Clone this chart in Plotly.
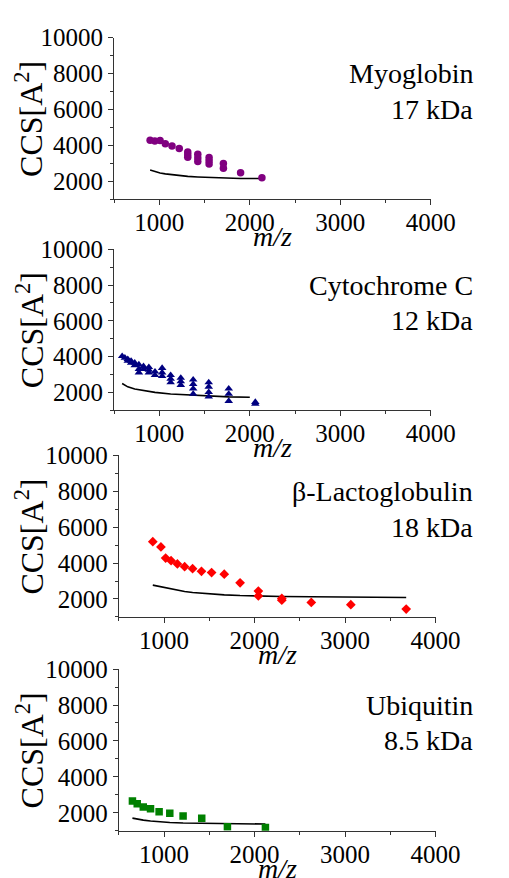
import plotly.graph_objects as go

# ---------------- data ----------------
myo_mz = [898, 950, 1008, 1066, 1140, 1220, 1314, 1314, 1314, 1425, 1425, 1425,
          1550, 1550, 1550, 1708, 1708, 1898, 2134]
myo_ccs = [4280, 4240, 4270, 4090, 3960, 3820, 3630, 3480, 3330, 3500, 3300, 3100,
           3320, 3140, 2960, 2990, 2720, 2480, 2190]
myo_line_mz = [898, 950, 1008, 1066, 1140, 1220, 1314, 1425, 1550, 1708, 1898, 2134]
myo_line_ccs = [2630, 2540, 2460, 2410, 2360, 2310, 2270, 2240, 2210, 2180, 2150, 2150]

cyt_mz = [589, 619, 651, 651, 688, 688, 728, 728, 774, 774, 774, 825, 825,
          884, 884, 884, 952, 952, 1031, 1031, 1031, 1125, 1125, 1125,
          1237, 1237, 1237, 1374, 1374, 1374, 1374, 1546, 1546, 1546, 1546,
          1767, 1767, 1767, 2061, 2061]
cyt_ccs = [4020, 3930, 3850, 3750, 3750, 3650, 3650, 3500, 3550, 3300, 3100, 3450, 3300,
           3400, 3250, 3100, 3150, 2950, 3350, 3100, 2900, 2950, 2750, 2550,
           2800, 2600, 2400, 2700, 2450, 2200, 1900, 2550, 2300, 2000, 1750,
           2200, 1900, 1500, 1450, 1350]
cyt_line_mz = [589, 651, 728, 825, 952, 1125, 1374, 1546, 1767, 2000]
cyt_line_ccs = [2490, 2300, 2180, 2080, 1990, 1900, 1830, 1780, 1740, 1720]

lac_mz = [875, 965, 1017, 1077, 1147, 1227, 1315, 1413, 1525, 1665, 1840,
          2042, 2042, 2301, 2301, 2627, 3064, 3676]
lac_ccs = [5190, 4900, 4280, 4130, 3950, 3800, 3690, 3540, 3470, 3380, 2900,
           2440, 2170, 2030, 1930, 1810, 1680, 1440]
lac_line_mz = [875, 965, 1017, 1077, 1147, 1227, 1315, 1413, 1525, 1665, 1840,
               2042, 2301, 2627, 3064, 3676]
lac_line_ccs = [2770, 2680, 2600, 2540, 2480, 2420, 2360, 2320, 2270, 2230, 2190,
                2160, 2140, 2120, 2090, 2080]

ubq_mz = [650, 703, 770, 850, 945, 1063, 1210, 1416, 1700, 2120]
ubq_ccs = [2650, 2500, 2320, 2220, 2060, 1970, 1820, 1700, 1220, 1180]
ubq_line_mz = [650, 703, 770, 850, 945, 1063, 1210, 1416, 1700, 2120]
ubq_line_ccs = [1700, 1640, 1590, 1540, 1500, 1460, 1430, 1420, 1400, 1370]

names = ["Myoglobin", "Cytochrome C", "β-Lactoglobulin", "Ubiquitin"]
masses = ["17 kDa", "12 kDa", "18 kDa", "8.5 kDa"]
x_ticks = [1000, 2000, 3000, 4000]
y_ticks = [2000, 4000, 6000, 8000, 10000]

# ---------------- layout geometry ----------------
W, H = 509, 878
panels = [
    # (x_left_px, x_right_px, y_top_px, y_bottom_px)
    (120, 453, 25, 189),
    (120, 453, 240, 403),
    (125, 458, 449, 613),
    (125, 458, 666, 830),
]
series = [
    (myo_mz, myo_ccs, myo_line_mz, myo_line_ccs, "circle", "#800080", 7.5),
    (cyt_mz, cyt_ccs, cyt_line_mz, cyt_line_ccs, "triangle-up", "#000080", 7.5),
    (lac_mz, lac_ccs, lac_line_mz, lac_line_ccs, "diamond", "#FF0000", 7.5),
    (ubq_mz, ubq_ccs, ubq_line_mz, ubq_line_ccs, "square", "#008000", 7.5),
]

FONT = "Liberation Serif, Times New Roman, serif"
fig = go.Figure()
annotations = []
layout = {}
for i, ((xl, xr, yt, yb), (mz, ccs, lmz, lccs, sym, col, ms)) in enumerate(zip(panels, series)):
    n = i + 1
    xa = "x" if n == 1 else f"x{n}"
    ya = "y" if n == 1 else f"y{n}"
    fig.add_trace(go.Scatter(x=lmz, y=lccs, mode="lines", xaxis=xa, yaxis=ya,
                             line=dict(color="black", width=1.6), showlegend=False))
    fig.add_trace(go.Scatter(x=mz, y=ccs, mode="markers", xaxis=xa, yaxis=ya,
                             marker=dict(symbol=sym, color=col, size=ms, line=dict(width=0)),
                             showlegend=False))
    axcommon = dict(showgrid=False, zeroline=False, showline=True, linecolor="#333",
                    linewidth=1, ticks="outside", tickcolor="#333", ticklen=5,
                    tickwidth=1, tickfont=dict(family=FONT, size=25, color="black"))
    layout["xaxis" if n == 1 else f"xaxis{n}"] = dict(
        axcommon, domain=[xl / W, xr / W], anchor=ya, range=[500, 4000],
        tickmode="array", tickvals=x_ticks, ticktext=[str(v) for v in x_ticks],
        ticklabelstandoff=-4,
        minor=dict(tickvals=[500, 1500, 2500, 3500], ticks="outside", ticklen=3,
                   tickcolor="#333"))
    layout["yaxis" if n == 1 else f"yaxis{n}"] = dict(
        axcommon, domain=[1 - yb / H, 1 - yt / H], anchor=xa, range=[1000, 10000],
        tickmode="array", tickvals=y_ticks, ticktext=[str(v) for v in y_ticks],
        minor=dict(tickvals=[1000, 3000, 5000, 7000, 9000], ticks="outside", ticklen=3,
                   tickcolor="#333"))
    xr_right = (500 - xl) / (xr - xl)
    annotations.append(dict(text=names[i], xref=f"{xa} domain", yref=ya, x=xr_right, y=8000,
                            xanchor="right", yanchor="middle", showarrow=False,
                            font=dict(family=FONT, size=28, color="black")))
    annotations.append(dict(text=masses[i], xref=f"{xa} domain", yref=ya, x=xr_right, y=6000,
                            xanchor="right", yanchor="middle", showarrow=False,
                            font=dict(family=FONT, size=28, color="black")))
    annotations.append(dict(text="CCS[A<sup>2</sup>]", xref="paper", yref="paper",
                            x=31 / W, y=1 - (yt + yb) / 2 / H, textangle=-90,
                            xanchor="center", yanchor="middle", showarrow=False,
                            font=dict(family=FONT, size=32, color="black")))
    annotations.append(dict(text="<i>m/z</i>", xref="paper", yref="paper",
                            x=(xl + xr) / 2 / W, y=1 - (yb + 38) / H,
                            xanchor="center", yanchor="middle", showarrow=False,
                            font=dict(family=FONT, size=28, color="black")))

fig.update_layout(width=W, height=H, margin=dict(l=0, r=0, t=0, b=0),
                  paper_bgcolor="white", plot_bgcolor="white",
                  annotations=annotations, **layout)
fig.write_html("out.html", config={"displayModeBar": False},
               post_script="document.body.style.margin='0';")
